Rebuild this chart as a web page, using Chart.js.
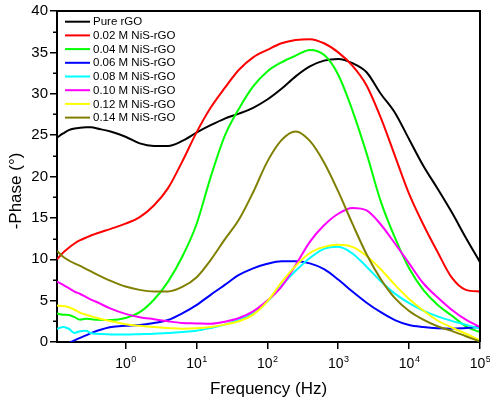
<!DOCTYPE html>
<html>
<head>
<meta charset="utf-8">
<script src="https://cdn.jsdelivr.net/npm/chart.js@4.4.0/dist/chart.umd.min.js"></script>
<style>
html,body{margin:0;padding:0;background:#ffffff;}
#wrap{width:490px;height:401px;position:relative;}
</style>
</head>
<body>
<div id="wrap"><canvas id="c" width="490" height="401"></canvas></div>
<script>
// ---- data ----
const frequencies = [0.108, 0.1318, 0.1585, 0.1905, 0.2291, 0.2754, 0.3311, 0.3981, 0.631, 1,
  1.585, 2.512, 3.981, 6.31, 10, 15.85, 25.12, 39.81, 63.1, 100,
  158.5, 251.2, 398.1, 631, 1000, 1585, 2512, 3981, 6310, 10000,
  15850, 25120, 39810, 63100, 100000];

const pureRGO = [24.7, 25.2, 25.6, 25.8, 25.9, 25.95, 25.95, 25.8, 25.4, 24.8,
  24.0, 23.7, 23.7, 24.3, 25.3, 26.2, 27.0, 27.6, 28.3, 29.3,
  30.6, 32.1, 33.3, 34.0, 34.2, 33.7, 32.6, 30.0, 27.7, 24.5,
  21.3, 18.55, 15.7, 12.6, 9.65];
const nis002 = [10.0, 10.8, 11.4, 11.9, 12.3, 12.6, 12.9, 13.15, 13.7, 14.3,
  15.1, 16.5, 18.6, 21.8, 25.3, 28.3, 30.7, 32.9, 34.4, 35.3,
  36.1, 36.5, 36.6, 36.1, 35.0, 33.4, 31.0, 27.1, 22.5, 17.9,
  14.2, 10.9, 7.8, 6.3, 6.1];
const nis004 = [3.45, 3.3, 3.25, 3.0, 2.7, 2.8, 2.75, 2.7, 2.65, 2.9,
  3.6, 5.1, 7.3, 10.3, 14.2, 19.9, 24.9, 28.2, 30.9, 32.7,
  33.8, 34.6, 35.3, 34.7, 32.3, 28.0, 22.8, 17.0, 12.6, 8.9,
  6.3, 4.5, 3.2, 1.9, 1.2];
const nis006 = [-1.0, -0.5, -0.15, 0.2, 0.5, 0.8, 1.1, 1.35, 1.8, 1.95,
  2.05, 2.3, 2.65, 3.45, 4.45, 5.7, 6.9, 8.1, 8.9, 9.45,
  9.75, 9.75, 9.5, 8.8, 7.55, 6.1, 4.75, 3.6, 2.65, 2.05,
  1.8, 1.65, 1.6, 1.7, 1.8];
const nis008 = [1.6, 1.8, 1.6, 1.1, 1.3, 1.35, 1.05, 1.0, 0.9, 0.9,
  0.95, 1.0, 1.1, 1.2, 1.35, 1.7, 2.1, 2.7, 3.5, 4.9,
  6.8, 8.6, 10.15, 11.25, 11.5, 10.7, 9.1, 7.35, 5.85, 4.7,
  3.8, 3.1, 2.55, 2.1, 1.6];
const nis010 = [7.3, 6.9, 6.5, 6.1, 5.8, 5.45, 5.1, 4.8, 4.0, 3.4,
  3.0, 2.75, 2.5, 2.3, 2.25, 2.2, 2.45, 2.9, 3.7, 5.0,
  6.7, 9.3, 12.1, 14.1, 15.5, 16.2, 15.9, 14.2, 11.9, 9.5,
  7.1, 5.4, 3.9, 2.7, 1.8];
const nis012 = [4.4, 4.35, 4.2, 3.9, 3.55, 3.3, 3.1, 2.9, 2.5, 2.15,
  1.95, 1.8, 1.7, 1.6, 1.65, 1.8, 2.1, 2.5, 3.3, 4.9,
  7.2, 9.2, 10.75, 11.5, 11.75, 11.5, 10.4, 8.8, 6.9, 5.2,
  3.8, 2.6, 1.75, 1.0, 0.2];
const nis014 = [11.0, 10.3, 9.85, 9.5, 9.2, 8.85, 8.5, 8.15, 7.35, 6.7,
  6.3, 6.1, 6.1, 6.65, 7.8, 9.9, 12.4, 14.8, 18.1, 21.8,
  24.4, 25.45, 24.3, 21.7, 18.2, 14.3, 10.6, 7.6, 5.3, 3.75,
  2.7, 1.9, 1.35, 0.7, 0.05];

const seriesLabels = ['Pure rGO', '0.02 M NiS-rGO', '0.04 M NiS-rGO', '0.06 M NiS-rGO',
  '0.08 M NiS-rGO', '0.10 M NiS-rGO', '0.12 M NiS-rGO', '0.14 M NiS-rGO'];
const seriesValues = [pureRGO, nis002, nis004, nis006, nis008, nis010, nis012, nis014];

const xTickValues = [1, 10, 100, 1000, 10000, 100000];
const xTickBase = '10';
const xTickExponents = ['0', '1', '2', '3', '4', '5'];
const yMinorTicks = [2.5, 7.5, 12.5, 17.5, 22.5, 27.5, 32.5, 37.5];
const xTitle = 'Frequency (Hz)';
const yTitle = '-Phase (°)';

// ---- styles ----
const seriesColors = ['#000000', '#ff0000', '#00ff00', '#0000ff', '#00ffff', '#ff00ff', '#ffff00', '#808000'];
const FONT = "'Liberation Sans', Arial, Helvetica, sans-serif";

const frameAndTicks = {
  id: 'frameAndTicks',
  afterDraw(chart) {
    const ctx = chart.ctx;
    const a = chart.chartArea;
    const xs = chart.scales.x, ys = chart.scales.y;
    ctx.save();
    // top and right frame
    ctx.strokeStyle = '#000';
    ctx.lineWidth = 2;
    ctx.beginPath();
    ctx.moveTo(a.left, a.top);
    ctx.lineTo(a.right, a.top);
    ctx.lineTo(a.right, a.bottom);
    ctx.stroke();
    // minor y ticks
    ctx.lineWidth = 1.5;
    ctx.beginPath();
    yMinorTicks.forEach(v => {
      const py = Math.round(ys.getPixelForValue(v)) + 0.25;
      ctx.moveTo(a.left - 4, py);
      ctx.lineTo(a.left, py);
    });
    ctx.stroke();
    // x tick labels 10^n
    ctx.fillStyle = '#000';
    ctx.textBaseline = 'alphabetic';
    xTickValues.forEach((v, i) => {
      const px = xs.getPixelForValue(v);
      ctx.font = '14px ' + FONT;
      const wb = ctx.measureText(xTickBase).width;
      ctx.font = '9px ' + FONT;
      const we = ctx.measureText(xTickExponents[i]).width;
      const start = px - (wb + we) / 2;
      ctx.font = '14px ' + FONT;
      ctx.textAlign = 'left';
      ctx.fillText(xTickBase, start, a.bottom + 26);
      ctx.font = '9px ' + FONT;
      ctx.fillText(xTickExponents[i], start + wb + 0.5, a.bottom + 20);
    });
    // y axis title
    ctx.save();
    ctx.translate(16, 191);
    ctx.rotate(-Math.PI / 2);
    ctx.font = '17px ' + FONT;
    ctx.textAlign = 'center';
    ctx.textBaseline = 'middle';
    ctx.fillText(yTitle, 0, 0);
    ctx.restore();
    // legend
    const lx = a.left + 8, ly = a.top + 10.7, step = 13.7;
    chart.data.datasets.forEach((ds, i) => {
      const y = ly + step * i;
      ctx.strokeStyle = ds.borderColor;
      ctx.lineWidth = 2;
      ctx.beginPath();
      ctx.moveTo(lx, y);
      ctx.lineTo(lx + 25, y);
      ctx.stroke();
      ctx.fillStyle = '#000';
      ctx.font = '11.5px ' + FONT;
      ctx.textAlign = 'left';
      ctx.textBaseline = 'middle';
      ctx.fillText(ds.label, lx + 28, y + 0.5);
    });
    ctx.restore();
  }
};

const n = seriesValues.length;
new Chart(document.getElementById('c').getContext('2d'), {
  type: 'line',
  data: {
    datasets: seriesValues.map((vals, i) => ({
      label: seriesLabels[i],
      data: frequencies.map((f, j) => ({ x: f, y: vals[j] })),
      borderColor: seriesColors[i],
      backgroundColor: seriesColors[i],
      borderWidth: 2,
      pointRadius: 0,
      fill: false,
      cubicInterpolationMode: 'monotone',
      order: n - i
    }))
  },
  options: {
    responsive: false,
    animation: false,
    devicePixelRatio: 1,
    layout: { padding: { top: 7, right: 10, left: 0, bottom: 0 } },
    plugins: { legend: { display: false }, tooltip: { enabled: false } },
    scales: {
      x: {
        type: 'logarithmic',
        min: 0.108,
        max: 100000,
        afterBuildTicks: s => { s.ticks = xTickValues.map(v => ({ value: v })); },
        afterFit: s => { s.height = 59; },
        ticks: { display: false },
        grid: { drawOnChartArea: false, drawTicks: true, tickLength: 7, color: '#000', lineWidth: 1.5 },
        border: { display: true, color: '#000', width: 2 },
        title: { display: true, text: xTitle, color: '#000', font: { family: FONT, size: 17 }, padding: { top: 0, bottom: 1 } }
      },
      y: {
        min: 0,
        max: 40,
        afterFit: s => { s.width = 57; },
        ticks: { stepSize: 5, color: '#000', font: { family: FONT, size: 15 }, padding: 2 },
        grid: { drawOnChartArea: false, drawTicks: true, tickLength: 7, color: '#000', lineWidth: 1.5 },
        border: { display: true, color: '#000', width: 2 },
        title: { display: false }
      }
    }
  },
  plugins: [frameAndTicks]
});
</script>
</body>
</html>
